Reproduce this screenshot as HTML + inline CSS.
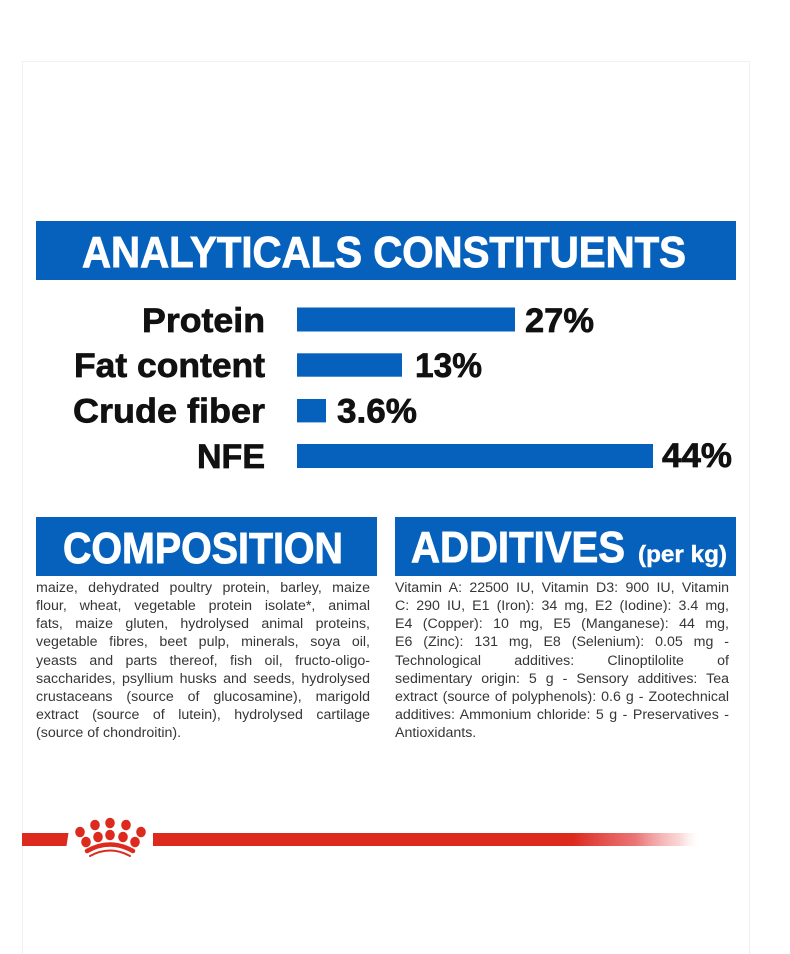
<!DOCTYPE html>
<html>
<head>
<meta charset="utf-8">
<style>
  html, body { margin:0; padding:0; background:#ffffff; }
  body { width:790px; height:954px; position:relative; overflow:hidden; font-family:"Liberation Sans", sans-serif; }
  svg.main { position:absolute; left:0; top:0; }
  .col { position:absolute; width:334px; font-family:"Liberation Sans", sans-serif; font-size:14.2px; line-height:18.15px; color:#363636; }
  .col div { text-align:justify; text-align-last:justify; }
  .col div.last { text-align-last:left; }
</style>
</head>
<body>
<svg class="main" width="790" height="954" viewBox="0 0 790 954" xmlns="http://www.w3.org/2000/svg">
  <defs>
    <linearGradient id="redfade" x1="153" y1="0" x2="702" y2="0" gradientUnits="userSpaceOnUse">
      <stop offset="0" stop-color="#dc2a1f" stop-opacity="1"/>
      <stop offset="0.765" stop-color="#dc2a1f" stop-opacity="1"/>
      <stop offset="0.88" stop-color="#e4484a" stop-opacity="0.75"/>
      <stop offset="0.96" stop-color="#ef8f8f" stop-opacity="0.35"/>
      <stop offset="1" stop-color="#ffffff" stop-opacity="0"/>
    </linearGradient>
  </defs>

  <!-- card outline -->
  <rect x="22.5" y="61.5" width="727" height="900" fill="none" stroke="#f1f1f1" stroke-width="1"/>

  <!-- Analyticals banner -->
  <rect x="36" y="221" width="700" height="59" fill="#0561bc"/>
  <text x="82" y="267" font-family="Liberation Sans, sans-serif" font-weight="bold" font-size="44" fill="#ffffff" stroke="#ffffff" stroke-width="0.9" textLength="604" lengthAdjust="spacingAndGlyphs">ANALYTICALS CONSTITUENTS</text>

  <!-- bars -->
  <g font-family="Liberation Sans, sans-serif" font-weight="bold" font-size="34" fill="#111111" stroke="#111111" stroke-width="0.7">
    <text x="142" y="332" textLength="123" lengthAdjust="spacingAndGlyphs">Protein</text>
    <text x="525" y="332" textLength="69" lengthAdjust="spacingAndGlyphs">27%</text>
    <text x="74" y="377" textLength="191" lengthAdjust="spacingAndGlyphs">Fat content</text>
    <text x="415" y="377" textLength="67" lengthAdjust="spacingAndGlyphs">13%</text>
    <text x="73" y="422.5" textLength="192" lengthAdjust="spacingAndGlyphs">Crude fiber</text>
    <text x="337" y="422.5" textLength="80" lengthAdjust="spacingAndGlyphs">3.6%</text>
    <text x="197" y="468" textLength="68" lengthAdjust="spacingAndGlyphs">NFE</text>
    <text x="662" y="467" textLength="70" lengthAdjust="spacingAndGlyphs">44%</text>
  </g>
  <rect x="297" y="307.5" width="218" height="24" fill="#0561bc"/>
  <rect x="297" y="353.3" width="105" height="23.4" fill="#0561bc"/>
  <rect x="297" y="399" width="29" height="23.4" fill="#0561bc"/>
  <rect x="297" y="444" width="356" height="24" fill="#0561bc"/>

  <!-- Composition banner -->
  <rect x="36" y="517" width="341" height="59" fill="#0561bc"/>
  <text x="63" y="563" font-family="Liberation Sans, sans-serif" font-weight="bold" font-size="44" fill="#ffffff" stroke="#ffffff" stroke-width="0.9" textLength="280" lengthAdjust="spacingAndGlyphs">COMPOSITION</text>

  <!-- Additives banner -->
  <rect x="395" y="517" width="341" height="59" fill="#0561bc"/>
  <text x="411" y="562" font-family="Liberation Sans, sans-serif" font-weight="bold" font-size="44" fill="#ffffff" stroke="#ffffff" stroke-width="0.9" textLength="214" lengthAdjust="spacingAndGlyphs">ADDITIVES</text>
  <text x="638" y="562" font-family="Liberation Sans, sans-serif" font-weight="bold" font-size="23" fill="#ffffff" stroke="#ffffff" stroke-width="0.4" textLength="89" lengthAdjust="spacingAndGlyphs">(per kg)</text>

  <!-- red line with crown -->
  <polygon points="22,833 68.5,833 66.5,846 22,846" fill="#dc2a1f"/>
  <rect x="153" y="833" width="549" height="13" fill="url(#redfade)"/>
  <g fill="#dc2a1f">
    <ellipse cx="80" cy="832" rx="4.8" ry="5.3"/>
    <ellipse cx="95" cy="825" rx="4.8" ry="5.3"/>
    <ellipse cx="110" cy="823" rx="4.8" ry="5.3"/>
    <ellipse cx="126" cy="825" rx="4.8" ry="5.3"/>
    <ellipse cx="141" cy="832" rx="4.8" ry="5.3"/>
    <ellipse cx="86" cy="842" rx="4.8" ry="5.3"/>
    <ellipse cx="98" cy="837" rx="4.8" ry="5.3"/>
    <ellipse cx="110" cy="835" rx="4.8" ry="5.3"/>
    <ellipse cx="123" cy="837" rx="4.8" ry="5.3"/>
    <ellipse cx="135" cy="842" rx="4.8" ry="5.3"/>
  </g>
  <path d="M87,851 Q110,838 133,851" fill="none" stroke="#dc2a1f" stroke-width="4.5" stroke-linecap="round"/>
  <path d="M90,856 Q110,845 130,856" fill="none" stroke="#dc2a1f" stroke-width="2" stroke-linecap="round"/>
</svg>

<div class="col" style="left:36px; top:579px;">
  <div>maize, dehydrated poultry protein, barley, maize</div>
  <div>flour, wheat, vegetable protein isolate*, animal</div>
  <div>fats, maize gluten, hydrolysed animal proteins,</div>
  <div>vegetable fibres, beet pulp, minerals, soya oil,</div>
  <div>yeasts and parts thereof, fish oil, fructo-oligo-</div>
  <div>saccharides, psyllium husks and seeds, hydrolysed</div>
  <div>crustaceans (source of glucosamine), marigold</div>
  <div>extract (source of lutein), hydrolysed cartilage</div>
  <div class="last">(source of chondroitin).</div>
</div>

<div class="col" style="left:395px; top:579px;">
  <div>Vitamin A: 22500 IU, Vitamin D3: 900 IU, Vitamin</div>
  <div>C: 290 IU, E1 (Iron): 34 mg, E2 (Iodine): 3.4 mg,</div>
  <div>E4 (Copper): 10 mg, E5 (Manganese): 44 mg,</div>
  <div>E6 (Zinc): 131 mg, E8 (Selenium): 0.05 mg -</div>
  <div>Technological additives: Clinoptilolite of</div>
  <div>sedimentary origin: 5 g - Sensory additives: Tea</div>
  <div>extract (source of polyphenols): 0.6 g - Zootechnical</div>
  <div>additives: Ammonium chloride: 5 g - Preservatives -</div>
  <div class="last">Antioxidants.</div>
</div>
</body>
</html>
